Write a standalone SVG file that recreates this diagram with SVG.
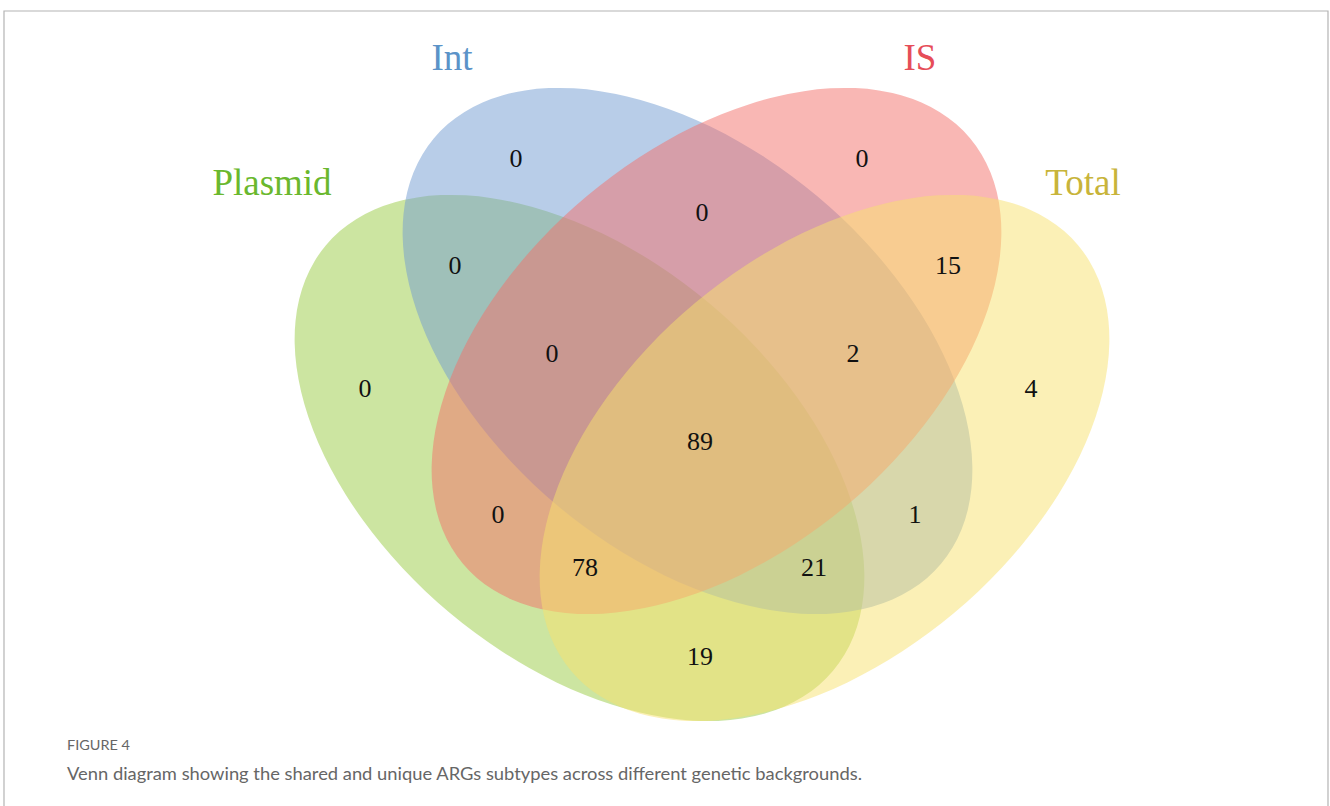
<svg xmlns="http://www.w3.org/2000/svg" width="1330" height="806" viewBox="0 0 1330 806">
  <style>
    .set { fill-opacity: 0.5; stroke: none; }
    .num { font-family: "Liberation Serif", "Times New Roman", serif; font-size: 26px; fill: #111; text-anchor: middle; }
    .lab { font-family: "Liberation Serif", "Times New Roman", serif; font-size: 37px; text-anchor: middle; }
    .cap { font-family: Lato, "Open Sans", sans-serif; fill: #666666; }
  </style>
  <rect x="0" y="0" width="1330" height="806" fill="#ffffff"/>
  <path d="M4,806 V11 H1328 V806" fill="none" stroke="#b4b4b4" stroke-width="1.2"/>

  <g id="sets">
    <g id="plasmid"><ellipse class="set" cx="579.5" cy="458" rx="331" ry="202" fill="#99cb43" transform="rotate(40 579.5 458)"/></g>
    <g id="int"><ellipse class="set" cx="687.5" cy="351" rx="331" ry="202" fill="#719bd1" transform="rotate(40 687.5 351)"/></g>
    <g id="is"><ellipse class="set" cx="716.5" cy="351" rx="331" ry="202" fill="#f36f69" transform="rotate(-40 716.5 351)"/></g>
    <g id="total"><ellipse class="set" cx="824.5" cy="458" rx="331" ry="202" fill="#f7e16d" transform="rotate(-40 824.5 458)"/></g>
  </g>

  <g id="labels">
    <text class="lab" x="272" y="195" fill="#6ab82e">Plasmid</text>
    <text class="lab" x="452" y="70" fill="#5b93c8">Int</text>
    <text class="lab" x="920" y="70" fill="#e64d58">IS</text>
    <text class="lab" x="1083" y="195" fill="#c8b43a">Total</text>
  </g>

  <g id="counts">
    <text class="num" x="516" y="167">0</text>
    <text class="num" x="862" y="167">0</text>
    <text class="num" x="702" y="221">0</text>
    <text class="num" x="455" y="274">0</text>
    <text class="num" x="948" y="274">15</text>
    <text class="num" x="365" y="397">0</text>
    <text class="num" x="1031" y="397">4</text>
    <text class="num" x="552" y="362">0</text>
    <text class="num" x="853" y="362">2</text>
    <text class="num" x="700" y="450">89</text>
    <text class="num" x="498" y="523">0</text>
    <text class="num" x="915" y="523">1</text>
    <text class="num" x="585" y="576">78</text>
    <text class="num" x="814" y="576">21</text>
    <text class="num" x="700" y="665">19</text>
  </g>

  <g id="caption">
    <text class="cap" x="67" y="750" font-size="13" textLength="63" lengthAdjust="spacingAndGlyphs">FIGURE 4</text>
    <text class="cap" x="67" y="780" font-size="17" textLength="795" lengthAdjust="spacingAndGlyphs">Venn diagram showing the shared and unique ARGs subtypes across different genetic backgrounds.</text>
  </g>
</svg>
